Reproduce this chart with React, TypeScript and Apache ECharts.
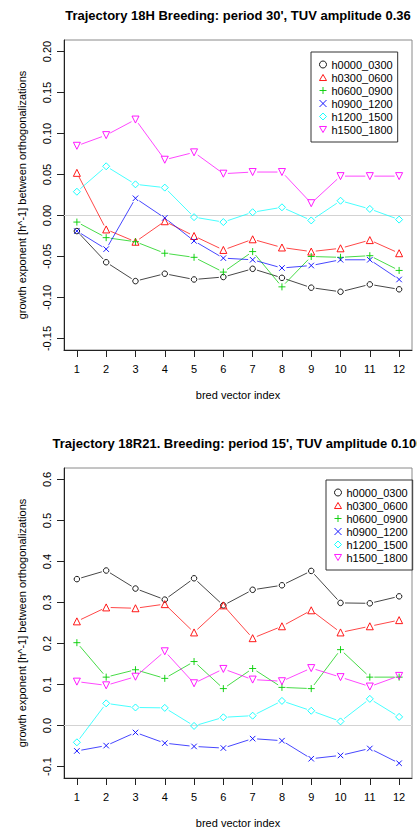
import React, { useEffect, useRef } from "react";
import * as echarts from "echarts";

// Bred vector indices (x axis) and the six 3-hour windows
const vectorIndex = [1, 2, 3, 4, 5, 6, 7, 8, 9, 10, 11, 12];
const windowNames = ["h0000_0300", "h0300_0600", "h0600_0900", "h0900_1200", "h1200_1500", "h1500_1800"];

// Trajectory 18H, breeding period 30', TUV amplitude 0.36
const t18H_h0000_0300 = [-0.019, -0.057, -0.080, -0.071, -0.078, -0.075, -0.065, -0.076, -0.088, -0.093, -0.084, -0.090];
const t18H_h0300_0600 = [0.052, -0.017, -0.032, -0.007, -0.025, -0.042, -0.029, -0.039, -0.044, -0.040, -0.030, -0.046];
const t18H_h0600_0900 = [-0.008, -0.027, -0.032, -0.046, -0.051, -0.069, -0.044, -0.087, -0.050, -0.051, -0.049, -0.067];
const t18H_h0900_1200 = [-0.019, -0.041, 0.021, -0.003, -0.031, -0.052, -0.054, -0.064, -0.061, -0.054, -0.054, -0.078];
const t18H_h1200_1500 = [0.029, 0.060, 0.038, 0.034, -0.002, -0.008, 0.004, 0.010, -0.006, 0.018, 0.008, -0.005];
const t18H_h1500_1800 = [0.085, 0.098, 0.117, 0.068, 0.077, 0.051, 0.053, 0.053, 0.015, 0.048, 0.048, 0.048];

// Trajectory 18R21, breeding period 15', TUV amplitude 0.100
const t18R21_h0000_0300 = [0.357, 0.378, 0.334, 0.307, 0.359, 0.293, 0.331, 0.342, 0.377, 0.299, 0.298, 0.315];
const t18R21_h0300_0600 = [0.254, 0.288, 0.286, 0.296, 0.227, 0.293, 0.213, 0.242, 0.281, 0.227, 0.242, 0.257];
const t18R21_h0600_0900 = [0.202, 0.118, 0.136, 0.115, 0.156, 0.090, 0.139, 0.093, 0.090, 0.185, 0.118, 0.118];
const t18R21_h0900_1200 = [-0.062, -0.049, -0.017, -0.043, -0.051, -0.055, -0.032, -0.037, -0.081, -0.073, -0.056, -0.092];
const t18R21_h1200_1500 = [-0.041, 0.054, 0.044, 0.043, -0.001, 0.020, 0.024, 0.060, 0.036, 0.010, 0.065, 0.021];
const t18R21_h1500_1800 = [0.107, 0.098, 0.119, 0.181, 0.103, 0.138, 0.112, 0.108, 0.140, 0.118, 0.095, 0.121];

// Tick labels
const yTicks18H = [-0.15, -0.1, -0.05, 0, 0.05, 0.1, 0.15, 0.2];
const yTicks18R21 = [-0.1, 0, 0.1, 0.2, 0.3, 0.4, 0.5, 0.6];

const title18H = "Trajectory 18H Breeding: period 30', TUV amplitude 0.36";
const title18R21 = "Trajectory 18R21. Breeding: period 15', TUV amplitude 0.100";
const xTitle = "bred vector index";
const yTitle = "growth exponent [h^-1] between orthogonalizations";

const series18H = [t18H_h0000_0300, t18H_h0300_0600, t18H_h0600_0900, t18H_h0900_1200, t18H_h1200_1500, t18H_h1500_1800];
const series18R21 = [t18R21_h0000_0300, t18R21_h0300_0600, t18R21_h0600_0900, t18R21_h0900_1200, t18R21_h1200_1500, t18R21_h1500_1800];

// R-style palette and plotting symbols (pch 1..6)
const COLORS = ["#000000", "#ff0000", "#00cd00", "#0000ff", "#00ffff", "#ff00ff"];
const SYMBOLS = [
  "circle",
  "path://M1,0L2,1.732L0,1.732Z",
  "path://M1,0V2M0,1H2",
  "path://M0,0L2,2M2,0L0,2",
  "diamond",
  "path://M0,0L2,0L1,1.732Z",
];
const SYMBOL_SIZES = [5.5, 7, 7, 5.5, 7, 7];
const FONT = '"Liberation Sans", Arial, Helvetica, sans-serif';
const GAP = 4.5;

function gapSegment(color: string) {
  return (_params: any, api: any) => {
    const a = api.coord([api.value(0), api.value(1)]);
    const b = api.coord([api.value(2), api.value(3)]);
    const dx = b[0] - a[0];
    const dy = b[1] - a[1];
    const len = Math.hypot(dx, dy);
    if (len <= 2 * GAP) return { type: "group", children: [] };
    const ux = dx / len;
    const uy = dy / len;
    return {
      type: "line",
      shape: { x1: a[0] + ux * GAP, y1: a[1] + uy * GAP, x2: b[0] - ux * GAP, y2: b[1] - uy * GAP },
      style: { stroke: color, lineWidth: 1, opacity: 0.72 },
    };
  };
}

function buildSeries(values: number[][], axisIndex: number) {
  const out: any[] = [];
  values.forEach((vals, k) => {
    const segs = vals.slice(0, -1).map((v, i) => [vectorIndex[i], v, vectorIndex[i + 1], vals[i + 1]]);
    out.push({
      type: "custom",
      name: `seg${axisIndex}_${k}`,
      xAxisIndex: axisIndex,
      yAxisIndex: axisIndex,
      renderItem: gapSegment(COLORS[k]),
      encode: { x: [0, 2], y: [1, 3] },
      data: segs,
      silent: true,
      z: 3,
      ...(k === 0
        ? {
            markLine: {
              silent: true,
              symbol: ["none", "none"],
              label: { show: false },
              lineStyle: { color: "#d3d3d3", type: "solid", width: 1 },
              data: [{ yAxis: 0 }],
              z: 1,
            },
          }
        : {}),
    });
    out.push({
      type: "scatter",
      name: windowNames[k],
      xAxisIndex: axisIndex,
      yAxisIndex: axisIndex,
      data: vals.map((v, i) => [vectorIndex[i], v]),
      symbol: SYMBOLS[k],
      symbolSize: SYMBOL_SIZES[k],
      itemStyle: { color: "rgba(0,0,0,0)", borderColor: COLORS[k], borderWidth: 1, opacity: 0.9 },
      emphasis: { disabled: true },
      silent: true,
      z: 4,
    });
  });
  return out;
}

function xAxisFor(gridIndex: number) {
  return {
    type: "value",
    gridIndex,
    min: 0.56,
    max: 12.44,
    axisLine: { show: true, onZero: false, lineStyle: { color: "#222", width: 1 } },
    axisTick: { show: true, length: 7, customValues: vectorIndex, lineStyle: { color: "#222" } },
    axisLabel: { show: true, customValues: vectorIndex, margin: 13, color: "#000", fontSize: 11, fontFamily: FONT },
    splitLine: { show: false },
    name: xTitle,
    nameLocation: "middle",
    nameGap: 39,
    nameTextStyle: { color: "#000", fontSize: 11, fontFamily: FONT },
  };
}

function yAxisFor(gridIndex: number, min: number, max: number, ticks: number[], decimals: number) {
  return {
    type: "value",
    gridIndex,
    min,
    max,
    axisLine: { show: true, onZero: false, lineStyle: { color: "#222", width: 1 } },
    axisTick: { show: true, length: 7, customValues: ticks, lineStyle: { color: "#222" } },
    axisLabel: {
      show: true,
      customValues: ticks,
      rotate: 90,
      margin: 12,
      color: "#000",
      fontSize: 11,
      fontFamily: FONT,
      formatter: (v: number) => v.toFixed(decimals),
    },
    splitLine: { show: false },
    name: yTitle,
    nameLocation: "middle",
    nameGap: 37,
    nameTextStyle: { color: "#000", fontSize: 11, fontFamily: FONT },
  };
}

function legendFor(left: number, top: number) {
  return {
    orient: "vertical",
    left,
    top,
    padding: [6, 5, 6, 8],
    itemGap: 0,
    itemWidth: 7,
    itemHeight: 7,
    borderColor: "#333",
    borderWidth: 1,
    selectedMode: false,
    textStyle: { color: "#000", fontSize: 11, fontFamily: FONT, lineHeight: 13 },
    data: windowNames.map((n, k) => ({
      name: n,
      icon: SYMBOLS[k],
      itemStyle: { color: "rgba(0,0,0,0)", borderColor: COLORS[k], borderWidth: 1 },
    })),
  };
}

function titleText(text: string, y: number) {
  return {
    type: "text",
    x: 238,
    y,
    silent: true,
    style: {
      text,
      fill: "#000",
      font: `bold 13px ${FONT}`,
      align: "center",
      verticalAlign: "middle",
      textAlign: "center",
      textVerticalAlign: "middle",
    },
  };
}

export default function App() {
  const ref = useRef<HTMLDivElement>(null);

  useEffect(() => {
    if (!ref.current) return;
    const chart = echarts.init(ref.current, undefined, { renderer: "svg" });
    chart.setOption({
      animation: false,
      backgroundColor: "#ffffff",
      textStyle: { fontFamily: FONT },
      grid: [
        { left: 64, top: 40, width: 348, height: 310, show: true, borderColor: "#8a8a8a", borderWidth: 1, backgroundColor: "transparent" },
        { left: 64, top: 468, width: 348, height: 310, show: true, borderColor: "#8a8a8a", borderWidth: 1, backgroundColor: "transparent" },
      ],
      xAxis: [xAxisFor(0), xAxisFor(1)],
      yAxis: [yAxisFor(0, -0.164, 0.214, yTicks18H, 2), yAxisFor(1, -0.128, 0.628, yTicks18R21, 1)],
      legend: [legendFor(311, 52), legendFor(326, 480)],
      graphic: [titleText(title18H, 15), titleText(title18R21, 443)],
      series: [...buildSeries(series18H, 0), ...buildSeries(series18R21, 1)],
    });
    return () => chart.dispose();
  }, []);

  return (
    <div
      ref={ref}
      style={{ position: "fixed", left: 0, top: 0, width: 417, height: 835, background: "#fff" }}
    />
  );
}
